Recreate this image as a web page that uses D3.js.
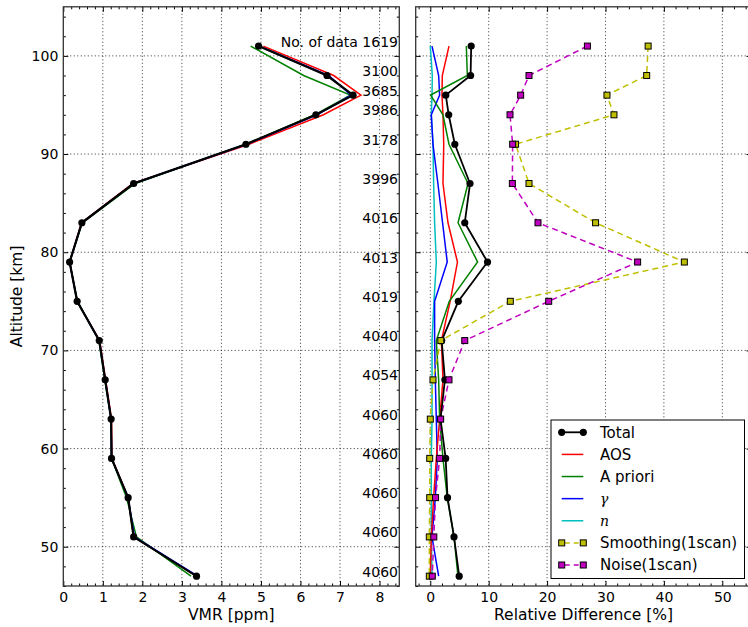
<!DOCTYPE html>
<html><head><meta charset="utf-8">
<script src="https://cdn.jsdelivr.net/npm/d3@7"></script>
<style>
body{margin:0;background:#fff;}
svg{display:block;font-family:"DejaVu Sans",sans-serif;}
</style></head><body>
<svg id="c" width="748" height="627"></svg>
<script>
// ---- data ----
const altitudes = [101,98,96,94,91,87,83,79,75,71,67,63,59,55,51,47];
const nData = [1619,3100,3685,3986,3178,3996,4016,4013,4019,4040,4054,4060,4060,4060,4060,4060];
// Left panel: VMR profiles [ppm]
const vmrAOS     = [5.06,6.84,7.53,6.58,4.70,1.76,0.46,0.16,0.35,0.92,1.07,1.22,1.23,1.64,1.78,3.37];
const vmrApriori = [4.74,6.08,7.26,6.36,4.62,1.82,0.48,0.16,0.36,0.90,1.05,1.21,1.22,1.60,1.85,3.23];
const vmrGamma   = [4.96,6.72,7.28,6.42,4.64,1.78,0.47,0.16,0.35,0.91,1.06,1.21,1.22,1.64,1.80,3.40];
const vmrN       = [4.94,6.68,7.32,6.40,4.62,1.78,0.47,0.16,0.35,0.91,1.06,1.21,1.22,1.64,1.78,3.37];
const vmrTotal   = [4.94,6.67,7.33,6.39,4.62,1.78,0.47,0.16,0.35,0.91,1.06,1.21,1.22,1.64,1.78,3.37];
// Right panel: relative difference [%]
const rdTotal     = [7.0,6.9,2.65,3.15,4.2,6.8,5.9,9.8,4.8,1.95,2.5,1.75,2.63,2.95,4.06,4.95];
const rdAOS       = [3.2,2.06,2.0,2.17,2.3,2.17,3.03,4.65,3.4,1.9,2.17,1.6,1.03,0.57,0.17,0.0];
const rdApriori   = [6.17,6.34,0.05,2.17,3.2,6.46,4.75,8.1,3.25,1.03,1.43,1.6,2.17,2.9,4.06,4.74];
const rdGamma     = [0.29,1.43,1.6,0.17,0.46,1.3,2.1,2.9,0.74,0.74,0.86,1.03,1.2,0.86,0.29,1.43];
const rdN         = [0.0,0.34,0.3,0.17,0.46,0.57,0.74,1.03,0.63,0.3,0.3,0.3,0.17,0.17,0.17,0.3];
const rdSmoothing = [37.3,37.05,30.25,31.45,14.6,16.9,28.3,43.5,13.7,1.8,0.46,0.0,-0.1,-0.1,-0.17,-0.17];
const rdNoise     = [26.9,16.9,15.47,13.65,14.1,14.05,18.44,35.5,20.27,5.9,3.2,1.77,1.6,0.9,0.6,0.34];
const legendLabels = ["Total","AOS","A priori","γ","n","Smoothing(1scan)","Noise(1scan)"];

(function(){
// ---- layout ----
const svg = d3.select("#c");
const yTop = 6.8, yBot = 586;
const y = d3.scaleLinear().domain([46,105]).range([yBot, yTop]);
const xL = d3.scaleLinear().domain([0,8.5]).range([63.3,399.3]);
const xR = d3.scaleLinear().domain([-2.5,55]).range([415.7,751.5]);
const yMajor = d3.range(50,101,10), yMinor = d3.range(46,105,2).filter(v=>v%10!==0);

const defs = svg.append("defs");
defs.append("clipPath").attr("id","clipL").append("rect")
  .attr("x",xL.range()[0]).attr("y",yTop).attr("width",xL.range()[1]-xL.range()[0]).attr("height",yBot-yTop);
defs.append("clipPath").attr("id","clipR").append("rect")
  .attr("x",xR.range()[0]).attr("y",yTop).attr("width",xR.range()[1]-xR.range()[0]).attr("height",yBot-yTop);

function grid(x, clipId, xMajor){
  const x0 = x.range()[0], x1 = x.range()[1];
  const g = svg.append("g").attr("clip-path",`url(#${clipId})`);
  g.selectAll("line.gx").data(xMajor).enter().append("line")
    .attr("x1",d=>x(d)).attr("x2",d=>x(d)).attr("y1",yTop).attr("y2",yBot)
    .attr("stroke","#000").attr("stroke-width",0.8).attr("stroke-dasharray","1,2.5");
  g.selectAll("line.gy").data(yMajor).enter().append("line")
    .attr("y1",d=>y(d)).attr("y2",d=>y(d)).attr("x1",x0).attr("x2",x1)
    .attr("stroke","#000").attr("stroke-width",0.8).attr("stroke-dasharray","1,2.5");
}

function axes(x, xMajor, xMinor, showYLabels, xLabel){
  const x0 = x.range()[0], x1 = x.range()[1];
  const list = [];
  list.push(svg.append("g").attr("transform",`translate(0,${yBot})`)
    .call(d3.axisBottom(x).tickValues(xMajor).tickSize(-5).tickPadding(6).tickFormat(d3.format("d"))));
  list.push(svg.append("g").attr("transform",`translate(0,${yBot})`)
    .call(d3.axisBottom(x).tickValues(xMinor).tickSize(-2.5).tickFormat("")));
  list.push(svg.append("g").attr("transform",`translate(0,${yTop})`)
    .call(d3.axisTop(x).tickValues(xMajor).tickSize(-5).tickFormat("")));
  list.push(svg.append("g").attr("transform",`translate(0,${yTop})`)
    .call(d3.axisTop(x).tickValues(xMinor).tickSize(-2.5).tickFormat("")));
  list.push(svg.append("g").attr("transform",`translate(${x0},0)`)
    .call(d3.axisLeft(y).tickValues(yMajor).tickSize(-5).tickPadding(5)
      .tickFormat(showYLabels ? d3.format("d") : "")));
  list.push(svg.append("g").attr("transform",`translate(${x0},0)`)
    .call(d3.axisLeft(y).tickValues(yMinor).tickSize(-2.5).tickFormat("")));
  list.push(svg.append("g").attr("transform",`translate(${x1},0)`)
    .call(d3.axisRight(y).tickValues(yMajor).tickSize(-5).tickFormat("")));
  list.push(svg.append("g").attr("transform",`translate(${x1},0)`)
    .call(d3.axisRight(y).tickValues(yMinor).tickSize(-2.5).tickFormat("")));
  list.forEach(a=>{
    a.select(".domain").remove();
    a.selectAll("line").attr("stroke","#000").attr("stroke-width",1);
    a.selectAll("text").attr("font-size","14px").attr("font-family","DejaVu Sans").attr("fill","#000");
  });
  svg.append("rect").attr("x",x0).attr("y",yTop).attr("width",x1-x0).attr("height",yBot-yTop)
    .attr("fill","none").attr("stroke","#333").attr("stroke-width",1.3);
  svg.append("text").attr("x",(x0+x1)/2).attr("y",620).attr("text-anchor","middle")
    .attr("font-size","15.5px").text(xLabel);
}

grid(xL,"clipL", d3.range(0,9,1));
grid(xR,"clipR", d3.range(0,51,10));

const idx = d3.range(altitudes.length);

// ---- left panel lines ----
const lineL = vals => d3.line().x(i=>xL(vals[i])).y(i=>y(altitudes[i]))(idx);
const dL = svg.append("g").attr("clip-path","url(#clipL)");
[[vmrN,"#00bfbf"],[vmrAOS,"#ff0000"],[vmrApriori,"#008000"],[vmrGamma,"#0000ff"]].forEach(([v,c])=>{
  dL.append("path").attr("d",lineL(v)).attr("fill","none").attr("stroke",c).attr("stroke-width",1.5);
});
dL.append("path").attr("d",lineL(vmrTotal)).attr("fill","none").attr("stroke","#000").attr("stroke-width",2.2);
dL.selectAll("circle").data(idx).enter().append("circle")
  .attr("cx",i=>xL(vmrTotal[i])).attr("cy",i=>y(altitudes[i])).attr("r",3.6).attr("fill","#000");

// No. of data labels
svg.append("g").selectAll("text").data(idx).enter().append("text")
  .attr("x",398).attr("y",i=>y(altitudes[i])+0.5).attr("text-anchor","end")
  .attr("font-size","14px").attr("fill","#000")
  .text(i=> i===0 ? "No. of data " + nData[i] : nData[i]);

// ---- right panel ----
const lineR = vals => d3.line().x(i=>xR(vals[i])).y(i=>y(altitudes[i]))(idx);
const dR = svg.append("g").attr("clip-path","url(#clipR)");
[[rdN,"#00bfbf"],[rdGamma,"#0000ff"],[rdAOS,"#ff0000"],[rdApriori,"#008000"]].forEach(([v,c])=>{
  dR.append("path").attr("d",lineR(v)).attr("fill","none").attr("stroke",c).attr("stroke-width",1.5);
});
[[rdSmoothing,"#bfbf00"],[rdNoise,"#bf00bf"]].forEach(([v,c])=>{
  dR.append("path").attr("d",lineR(v)).attr("fill","none").attr("stroke",c)
    .attr("stroke-width",1.5).attr("stroke-dasharray","6,4");
});
dR.append("path").attr("d",lineR(rdTotal)).attr("fill","none").attr("stroke","#000").attr("stroke-width",1.8);
dR.selectAll("circle").data(idx).enter().append("circle")
  .attr("cx",i=>xR(rdTotal[i])).attr("cy",i=>y(altitudes[i])).attr("r",3.6).attr("fill","#000");
const sq = 6;
[[rdSmoothing,"#bfbf00"],[rdNoise,"#bf00bf"]].forEach(([v,c])=>{
  dR.append("g").selectAll("rect").data(idx).enter().append("rect")
    .attr("x",i=>xR(v[i])-sq/2).attr("y",i=>y(altitudes[i])-sq/2).attr("width",sq).attr("height",sq)
    .attr("fill",c).attr("stroke","#000").attr("stroke-width",1);
});

axes(xL, d3.range(0,9,1), d3.range(0,8.5,0.2).filter(v=>Math.abs(v-Math.round(v))>1e-6), true, "VMR [ppm]");
axes(xR, d3.range(0,51,10), d3.range(-2,55,2).filter(v=>v%10!==0), false, "Relative Difference [%]");

svg.append("text").attr("transform",`translate(22,${(yTop+yBot)/2}) rotate(-90)`)
  .attr("text-anchor","middle").attr("font-size","15.5px").text("Altitude [km]");

// ---- legend ----
const lg = svg.append("g");
lg.append("rect").attr("x",551).attr("y",420).attr("width",193.5).attr("height",158.5)
  .attr("fill","#fff").attr("stroke","#000").attr("stroke-width",1);
const legStyles = [
  {c:"#000",w:1.8,dash:false,m:"circle"},
  {c:"#ff0000",w:1.5,dash:false,m:null},
  {c:"#008000",w:1.5,dash:false,m:null},
  {c:"#0000ff",w:1.5,dash:false,m:null},
  {c:"#00bfbf",w:1.5,dash:false,m:null},
  {c:"#bfbf00",w:1.5,dash:true,m:"square"},
  {c:"#bf00bf",w:1.5,dash:true,m:"square"}
];
const legY = d3.scaleLinear().domain([0,6]).range([432.3,565]);
legendLabels.forEach((lab,i)=>{
  const s = legStyles[i], yy = legY(i), xa = 561.7, xb = 583.3;
  const ln = lg.append("line").attr("x1",xa).attr("x2",xb).attr("y1",yy).attr("y2",yy)
    .attr("stroke",s.c).attr("stroke-width",s.w);
  if(s.dash) ln.attr("stroke-dasharray","5,4").attr("stroke-dashoffset",-3);
  [xa,xb].forEach(xx=>{
    if(s.m==="circle") lg.append("circle").attr("cx",xx).attr("cy",yy).attr("r",3.6).attr("fill","#000");
    if(s.m==="square") lg.append("rect").attr("x",xx-sq/2).attr("y",yy-sq/2).attr("width",sq).attr("height",sq)
      .attr("fill",s.c).attr("stroke","#000").attr("stroke-width",1);
  });
  const t = lg.append("text").attr("x",600).attr("y",yy).attr("dy","0.36em").attr("font-size","15px").text(lab);
  if(i===3||i===4) t.attr("font-family","DejaVu Serif").attr("font-style","italic").attr("font-size","14px");
});
})();
</script>
</body></html>
